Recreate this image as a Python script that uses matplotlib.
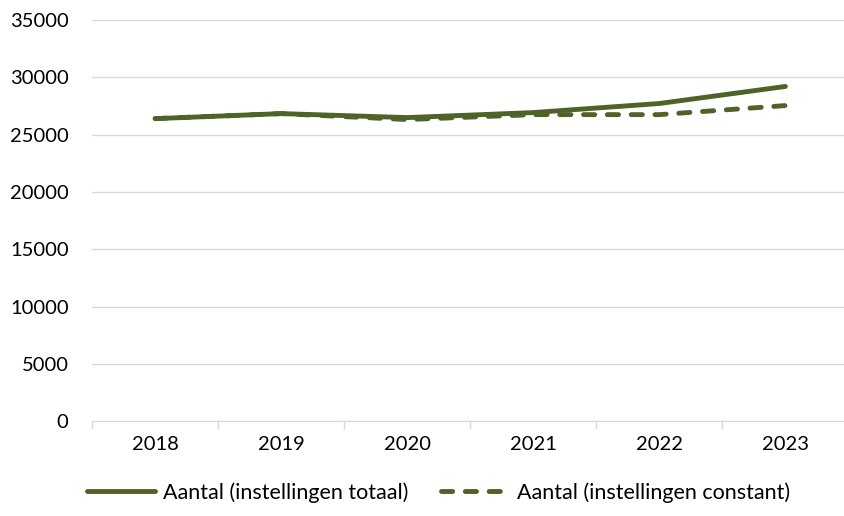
import matplotlib
matplotlib.use("Agg")
import matplotlib.pyplot as plt
from matplotlib.ticker import MultipleLocator, FixedLocator, NullFormatter

# data
years = ["2018", "2019", "2020", "2021", "2022", "2023"]
totaal = [26400, 26840, 26490, 26930, 27720, 29210]
constant = [26400, 26840, 26320, 26750, 26750, 27540]

GREEN = "#4F6228"
GRID = "#D9D9D9"

plt.rcParams["font.family"] = ["Lato", "DejaVu Sans"]

fig = plt.figure(figsize=(8.45, 5.16), dpi=100)
ax = fig.add_axes([0.109, 0.184, 0.895, 0.777])

x = list(range(len(years)))
ax.plot(x, totaal, color=GREEN, lw=3.5, solid_capstyle="round",
        label="Aantal (instellingen totaal)")
ax.plot(x, constant, color=GREEN, lw=3.5, linestyle=(0, (2.3, 2.6)),
        dash_capstyle="round", label="Aantal (instellingen constant)")

ax.set_ylim(0, 35000)
ax.set_xlim(-0.5, len(years) - 0.5)
ax.yaxis.set_major_locator(MultipleLocator(5000))
ax.grid(axis="y", color=GRID, lw=1)
ax.set_axisbelow(True)

ax.set_xticks(x)
ax.set_xticklabels(years)
ax.xaxis.set_minor_locator(FixedLocator([i - 0.5 for i in range(len(years) + 1)]))
ax.xaxis.set_minor_formatter(NullFormatter())
ax.tick_params(axis="x", which="major", length=0, pad=11, labelsize=14.5)
ax.tick_params(axis="x", which="minor", length=6, color=GRID, width=1)
ax.tick_params(axis="y", length=0, pad=17, labelsize=14.5)

for side in ["left", "right", "top"]:
    ax.spines[side].set_visible(False)
ax.spines["bottom"].set_color(GRID)

fig.legend(loc="lower center", bbox_to_anchor=(0.519, -0.012), ncol=2,
           frameon=False, fontsize=15.5, handlelength=3.15, columnspacing=1.5,
           handletextpad=0.4)

fig.savefig("out.png", dpi=100)
